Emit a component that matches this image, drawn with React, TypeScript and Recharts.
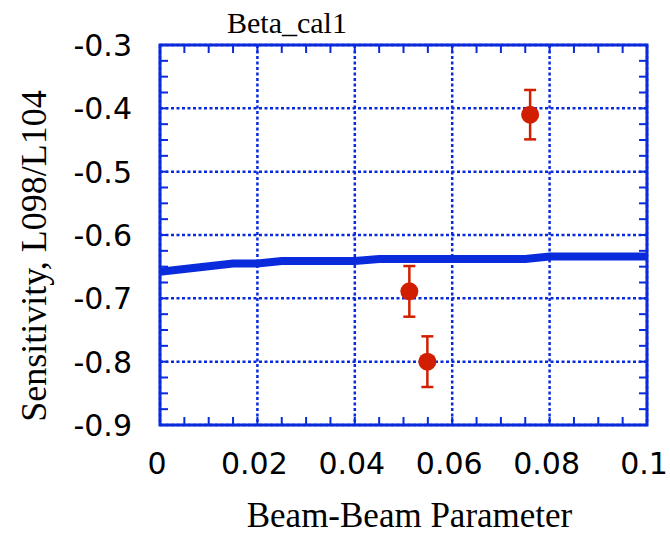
import React from "react";
import {
  ComposedChart,
  Line,
  Scatter,
  ErrorBar,
  XAxis,
  YAxis,
  CartesianGrid,
  ReferenceArea,
  Label,
} from "recharts";

// fitted sensitivity curve
const curveX = [0, 0.015, 0.02, 0.025, 0.04, 0.045, 0.075, 0.08, 0.1];
const curveY = [-0.658, -0.645, -0.645, -0.641, -0.641, -0.638, -0.638, -0.634, -0.634];

// measurements
const measX = [0.0512, 0.0549, 0.076];
const measY = [-0.689, -0.8, -0.41];
const measErr = [0.04, 0.04, 0.039];

const xTicks = [0, 0.02, 0.04, 0.06, 0.08, 0.1];
const yTicks = [-0.9, -0.8, -0.7, -0.6, -0.5, -0.4, -0.3];
const xMinor = [
  0.005, 0.01, 0.015, 0.02, 0.025, 0.03, 0.035, 0.04, 0.045, 0.05, 0.055, 0.06, 0.065, 0.07, 0.075,
  0.08, 0.085, 0.09, 0.095,
];
const yMinor = [
  -0.875, -0.85, -0.825, -0.8, -0.775, -0.75, -0.725, -0.7, -0.675, -0.65, -0.625, -0.6, -0.575,
  -0.55, -0.525, -0.5, -0.475, -0.45, -0.425, -0.4, -0.375, -0.35, -0.325,
];

const curve = curveX.map((x, i) => ({ x, y: curveY[i] }));
const points = measX.map((x, i) => ({ x, y: measY[i], err: measErr[i] }));

const BLUE = "#0a2bdc";
const RED = "#d21e00";
const W = 670;
const H = 535;
const TOP = 45;
const RIGHT = 23;
const LEFT_W = 159;
const BOTTOM_H = 109;
const PT = TOP;
const PB = H - BOTTOM_H - 1;
const PL = LEFT_W + 1;
const PR = W - RIGHT;
const TICK_LEN = 8;

const sans = "DejaVu Sans";
const serif = "Liberation Serif";

function MinorXTick(props: any) {
  const { x } = props;
  return (
    <g stroke={BLUE} strokeWidth={2}>
      <line x1={x} x2={x} y1={PB} y2={PB - TICK_LEN} />
      <line x1={x} x2={x} y1={PT} y2={PT + TICK_LEN} />
    </g>
  );
}

function MinorYTick(props: any) {
  const { y } = props;
  return (
    <g stroke={BLUE} strokeWidth={2}>
      <line x1={PL} x2={PL + TICK_LEN} y1={y} y2={y} />
      <line x1={PR} x2={PR - TICK_LEN} y1={y} y2={y} />
    </g>
  );
}

function XTickLabel(props: any) {
  const { x, payload } = props;
  return (
    <text x={x - 3} y={PB + 49} textAnchor="middle" fontFamily={sans} fontSize={30} fill="#000">
      {String(payload.value)}
    </text>
  );
}

function YTickLabel(props: any) {
  const { y, payload } = props;
  return (
    <text x={PL - 28} y={y + 11} textAnchor="end" fontFamily={sans} fontSize={30} fill="#000">
      {Number(payload.value).toFixed(1)}
    </text>
  );
}

const xTitle = () => (
  <text x={(PL + PR) / 2 + 6} y={527} textAnchor="middle" fontFamily={serif} fontSize={35} fill="#000">
    Beam-Beam Parameter
  </text>
);

const yTitle = () => (
  <text
    x={46}
    y={256}
    transform="rotate(-90, 46, 256)"
    textAnchor="middle"
    fontFamily={serif}
    fontSize={36}
    fill="#000"
  >
    Sensitivity, L098/L104
  </text>
);

const dot = (p: any) => <circle cx={p.cx} cy={p.cy} r={9} fill={RED} />;

export default function App() {
  return (
    <div style={{ position: "absolute", left: 0, top: 0, width: W, height: H, background: "#fff" }}>
      <ComposedChart width={W} height={H} margin={{ top: TOP, right: RIGHT, bottom: 0, left: 0 }}>
        <CartesianGrid stroke={BLUE} strokeWidth={2.5} strokeDasharray="3 2.5" />
        <XAxis
          xAxisId="minor"
          type="number"
          dataKey="x"
          domain={[0, 0.1]}
          allowDataOverflow
          ticks={xMinor}
          interval={0}
          height={1}
          axisLine={false}
          tickLine={false}
          tickSize={0}
          tickMargin={0}
          tick={MinorXTick}
        />
        <XAxis
          type="number"
          dataKey="x"
          domain={[0, 0.1]}
          ticks={xTicks}
          interval={0}
          height={BOTTOM_H}
          axisLine={false}
          tickLine={false}
          tickSize={0}
          tickMargin={0}
          tick={XTickLabel}
        >
          <Label content={xTitle} />
        </XAxis>
        <YAxis
          yAxisId="minor"
          type="number"
          dataKey="y"
          domain={[-0.9, -0.3]}
          allowDataOverflow
          ticks={yMinor}
          interval={0}
          width={1}
          axisLine={false}
          tickLine={false}
          tickSize={0}
          tickMargin={0}
          tick={MinorYTick}
        />
        <YAxis
          type="number"
          dataKey="y"
          domain={[-0.9, -0.3]}
          ticks={yTicks}
          interval={0}
          width={LEFT_W}
          axisLine={false}
          tickLine={false}
          tickSize={0}
          tickMargin={0}
          tick={YTickLabel}
        >
          <Label content={yTitle} />
        </YAxis>
        <Line
          data={curve}
          dataKey="y"
          type="linear"
          stroke={BLUE}
          strokeWidth={8}
          dot={false}
          activeDot={false}
          isAnimationActive={false}
        />
        <Scatter data={points} dataKey="y" fill={RED} shape={dot} isAnimationActive={false}>
          <ErrorBar dataKey="err" direction="y" width={6} strokeWidth={2.5} stroke={RED} />
        </Scatter>
        <ReferenceArea x1={0} x2={0.1} y1={-0.9} y2={-0.3} fill="none" stroke={BLUE} strokeWidth={3} />
      </ComposedChart>
      <svg width={W} height={H} style={{ position: "absolute", left: 0, top: 0, pointerEvents: "none" }}>
        <text x={287} y={33} textAnchor="middle" fontFamily={serif} fontSize={30} fill="#000">
          Beta_cal1
        </text>
      </svg>
    </div>
  );
}
